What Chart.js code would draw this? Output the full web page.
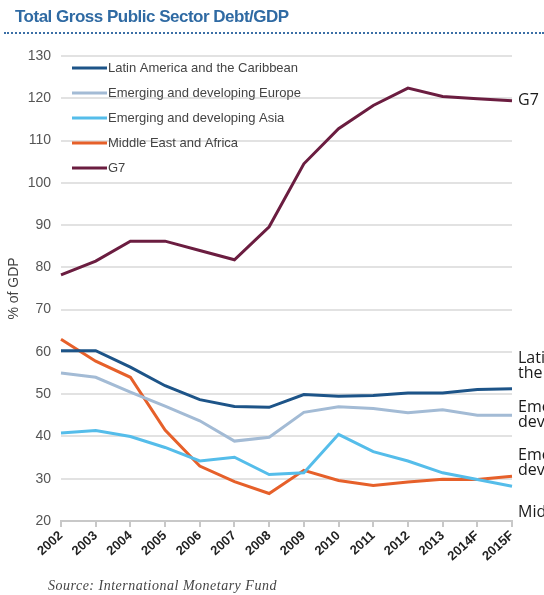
<!DOCTYPE html>
<html>
<head>
<meta charset="utf-8">
<script src="https://cdn.jsdelivr.net/npm/chart.js@4"></script>
<style>
  html, body { margin: 0; padding: 0; background: #fff; }
  #wrap { position: relative; width: 544px; height: 595px; overflow: hidden; }
  #title {
    position: absolute; left: 15px; top: 7px;
    font: bold 17px "Liberation Sans", Arial, sans-serif;
    color: #2f6aa3; letter-spacing: -0.5px;
  }
  #rule {
    position: absolute; left: 4px; right: 0; top: 32px;
    border-top: 2px dotted #3b6fa6;
  }
  #source {
    position: absolute; left: 48px; top: 578px;
    font: italic 14px "Liberation Serif", serif; color: #444; letter-spacing: 0.5px;
  }
  canvas { position: absolute; left: 0; top: 0; }
</style>
</head>
<body>
<div id="wrap">
  <canvas id="debtChart" width="544" height="595"></canvas>
  <div id="title">Total Gross Public Sector Debt/GDP</div>
  <div id="rule"></div>
  <div id="source">Source: International Monetary Fund</div>
</div>
<script>
// yıllar (2014F ve 2015F tahmin)
const years = ['2002', '2003', '2004', '2005', '2006', '2007', '2008', '2009', '2010', '2011', '2012', '2013', '2014F', '2015F'];

const latinAmerica = [60.3, 60.3, 56.4, 52.0, 48.7, 47.1, 46.9, 49.9, 49.5, 49.7, 50.3, 50.3, 51.1, 51.3];
const emergingEurope = [55.0, 54.0, 50.5, 47.2, 43.7, 38.9, 39.8, 45.7, 47.0, 46.6, 45.6, 46.3, 45.0, 45.0];
const emergingAsia = [40.8, 41.4, 40.0, 37.4, 34.2, 35.1, 31.0, 31.4, 40.5, 36.4, 34.2, 31.4, 29.8, 28.2];
const middleEastAfrica = [63.0, 57.8, 54.0, 41.5, 33.0, 29.3, 26.5, 32.0, 29.6, 28.4, 29.2, 29.9, 29.8, 30.6];
const g7 = [78.2, 81.5, 86.2, 86.2, 84.0, 81.8, 89.6, 104.5, 112.8, 118.3, 122.4, 120.4, 119.9, 119.4];

const seriesNames = ['Latin America and the Caribbean', 'Emerging and developing Europe', 'Emerging and developing Asia', 'Middle East and Africa', 'G7'];
const seriesColors = ['#1d5488', '#a3bbd5', '#55bdea', '#e6602a', '#6b1d40'];

// sağ kenardaki etiketler (kırpılmış görünüyor), y değeri veri biriminde
const sideLabels = [
  { lines: ['G7'], value: 119.4 },
  { lines: ['Latin America and', 'the Caribbean'], value: 56.6 },
  { lines: ['Emerging and', 'developing Europe'], value: 45.0 },
  { lines: ['Emerging and', 'developing Asia'], value: 33.7 },
  { lines: ['Middle East and Africa'], value: 22.1 }
];

const yTicks = [20, 30, 40, 50, 60, 70, 80, 90, 100, 110, 120, 130];

// grafik içindeki lejant + sağdaki etiketler
const extrasPlugin = {
  id: 'extras',
  afterDraw(chart) {
    const ctx = chart.ctx;
    const area = chart.chartArea;
    const yScale = chart.scales.y;
    ctx.save();

    // lejant
    ctx.font = '13px "Liberation Sans", Arial, sans-serif';
    ctx.textBaseline = 'middle';
    ctx.textAlign = 'left';
    chart.data.datasets.forEach(function(ds, i) {
      const y = 68 + i * 25;
      ctx.strokeStyle = ds.borderColor;
      ctx.lineWidth = 3;
      ctx.beginPath();
      ctx.moveTo(72, y);
      ctx.lineTo(107, y);
      ctx.stroke();
      ctx.fillStyle = '#444';
      ctx.fillText(ds.label, 108, y);
    });

    // sağ etiketler
    ctx.font = '16px "Open Sans", "Noto Sans", sans-serif';
    ctx.fillStyle = '#1a1a1a';
    sideLabels.forEach(function(lab) {
      const y0 = yScale.getPixelForValue(lab.value) - (lab.lines.length - 1) * 7.5;
      lab.lines.forEach(function(t, k) {
        ctx.fillText(t, area.right + 6, y0 + k * 15);
      });
    });
    ctx.restore();
  }
};

const ctx = document.getElementById('debtChart').getContext('2d');

const debtChart = new Chart(ctx, {
  type: 'line',
  data: {
    labels: years,
    datasets: [latinAmerica, emergingEurope, emergingAsia, middleEastAfrica, g7].map(function(vals, i) {
      return {
        label: seriesNames[i],
        data: vals,
        borderColor: seriesColors[i],
        backgroundColor: seriesColors[i],
        borderWidth: 3,
        pointRadius: 0,
        tension: 0,
        fill: false
      };
    })
  },
  options: {
    responsive: false,
    animation: false,
    layout: {
      padding: { top: 56, right: 32, bottom: 0, left: 6 }
    },
    plugins: {
      legend: { display: false },
      title: { display: false },
      tooltip: { enabled: false }
    },
    scales: {
      x: {
        offset: false,
        grid: { drawOnChartArea: false, drawTicks: true, tickLength: 6, color: '#c8c8c8', lineWidth: 2 },
        border: { display: true, color: '#c8c8c8', width: 2 },
        ticks: {
          maxRotation: 42,
          minRotation: 42,
          autoSkip: false,
          padding: 1,
          color: '#222',
          font: { size: 13, weight: 'bold', family: '"Liberation Sans", Arial, sans-serif' }
        },
        afterFit(scale) { scale.height = 74; }
      },
      y: {
        min: 20,
        max: 130,
        afterBuildTicks(scale) { scale.ticks = yTicks.map(function(v) { return { value: v }; }); },
        grid: { color: '#e2e2e2', lineWidth: 2, drawTicks: false },
        border: { display: false },
        ticks: {
          padding: 10,
          color: '#555',
          font: { size: 14, family: '"Liberation Sans", Arial, sans-serif' }
        },
        title: {
          display: true,
          text: '% of GDP',
          color: '#444',
          padding: 0,
          font: { size: 14, family: '"Liberation Sans", Arial, sans-serif' }
        },
        afterFit(scale) { scale.width = 55; }
      }
    }
  },
  plugins: [extrasPlugin]
});
</script>
</body>
</html>
